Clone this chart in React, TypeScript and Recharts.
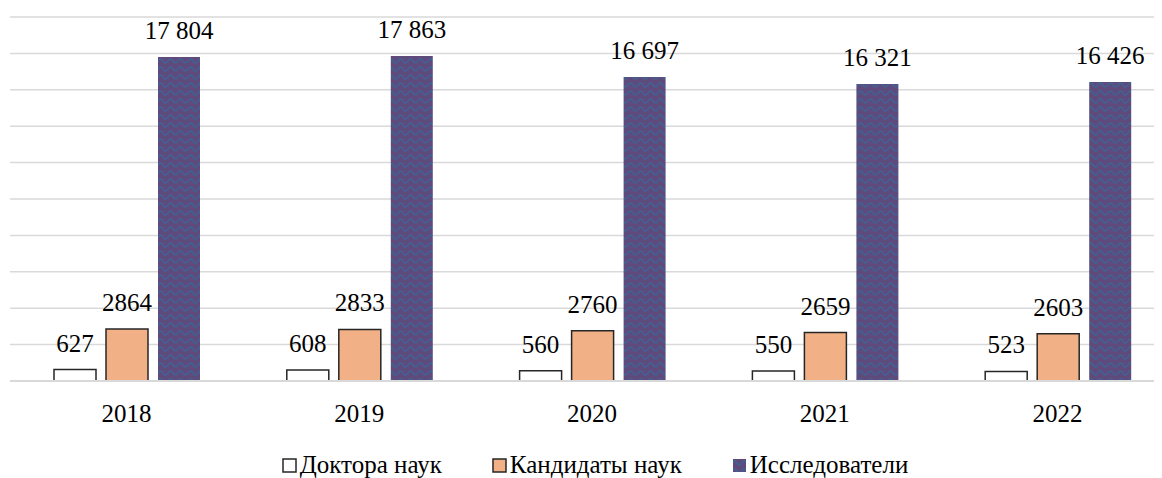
import React from 'react';
import { BarChart, Bar, XAxis, YAxis, CartesianGrid, LabelList } from 'recharts';

const years = ['2018', '2019', '2020', '2021', '2022'];
const doctors = [627, 608, 560, 550, 523];
const candidates = [2864, 2833, 2760, 2659, 2603];
const researchers = [17804, 17863, 16697, 16321, 16426];
const yTicks = [0, 2000, 4000, 6000, 8000, 10000, 12000, 14000, 16000, 18000, 20000];

const seriesNames = ['Доктора наук', 'Кандидаты наук', 'Исследователи'];

const data = years.map((year, i) => ({
  year,
  doctors: doctors[i],
  candidates: candidates[i],
  researchers: researchers[i],
}));

const FONT = 'Liberation Serif, DejaVu Serif, Times, serif';
const ORANGE = '#F1B085';
const PURPLE = '#5E4B7C';
const WAVE = '#3F6296';
const BORDER = '#262626';

// group thousands with a no-break space so the label stays on one line
const spaced = (v: any) => String(v).replace(/\B(?=(\d{3})+(?!\d))/g, '\u00A0');

function WaveDefs({ id }: { id: string }) {
  return (
    <defs>
      <pattern id={id} width={10} height={8} patternUnits="userSpaceOnUse">
        <rect width={10} height={8} fill={PURPLE} />
        <path d="M0 5 Q2.5 1 5 5 T10 5" fill="none" stroke={WAVE} strokeWidth={1.6} />
      </pattern>
    </defs>
  );
}

function LegendRow() {
  const items = [
    { name: seriesNames[0], fill: '#fff', stroke: BORDER },
    { name: seriesNames[1], fill: ORANGE, stroke: BORDER },
    { name: seriesNames[2], fill: 'url(#waveLegend)', stroke: 'none' },
  ];
  return (
    <div
      style={{
        display: 'flex',
        justifyContent: 'center',
        gap: 50,
        fontFamily: FONT,
        fontSize: 25,
        lineHeight: '28px',
        color: '#000',
        marginTop: 23,
        paddingLeft: 4,
      }}
    >
      {items.map((it) => (
        <span key={it.name} style={{ display: 'flex', alignItems: 'center' }}>
          <svg width={15} height={15} style={{ marginRight: 3 }}>
            {it.stroke === 'none' && <WaveDefs id="waveLegend" />}
            <rect x={1} y={1} width={13} height={13} fill={it.fill} stroke={it.stroke} strokeWidth={1.5} />
          </svg>
          {it.name}
        </span>
      ))}
    </div>
  );
}

export default function App() {
  const labelStyle = { fontFamily: FONT, fontSize: 25, fill: '#000' };
  return (
    <div style={{ width: 1154, height: 470, overflow: 'hidden', fontFamily: FONT }}>
      <div style={{ width: 1170 }}>
        <BarChart
          width={1170}
          height={420}
          data={data}
          margin={{ top: 9, right: 4, bottom: 0, left: 2 }}
          barCategoryGap={44}
          barGap={10}
        >
          <WaveDefs id="wave" />
          <CartesianGrid vertical={false} stroke="#d9d9d9" strokeWidth={1.5} />
          <XAxis
            dataKey="year"
            height={47}
            axisLine={{ stroke: '#d9d9d9', strokeWidth: 2 }}
            tickLine={false}
            tickSize={6}
            tickMargin={17}
            tick={{ fontFamily: FONT, fontSize: 25, fill: '#000' }}
          />
          <YAxis hide domain={[0, 20000]} ticks={yTicks} interval={0} />
          <Bar dataKey="doctors" name={seriesNames[0]} fill="#fff" stroke={BORDER} strokeWidth={1.5} isAnimationActive={false}>
            <LabelList dataKey="doctors" position="top" offset={18} style={labelStyle} />
          </Bar>
          <Bar dataKey="candidates" name={seriesNames[1]} fill={ORANGE} stroke={BORDER} strokeWidth={1.5} isAnimationActive={false}>
            <LabelList dataKey="candidates" position="top" offset={18} style={labelStyle} />
          </Bar>
          <Bar dataKey="researchers" name={seriesNames[2]} fill="url(#wave)" isAnimationActive={false}>
            <LabelList dataKey="researchers" position="top" offset={18} formatter={spaced} style={labelStyle} />
          </Bar>
        </BarChart>
        <LegendRow />
      </div>
    </div>
  );
}
